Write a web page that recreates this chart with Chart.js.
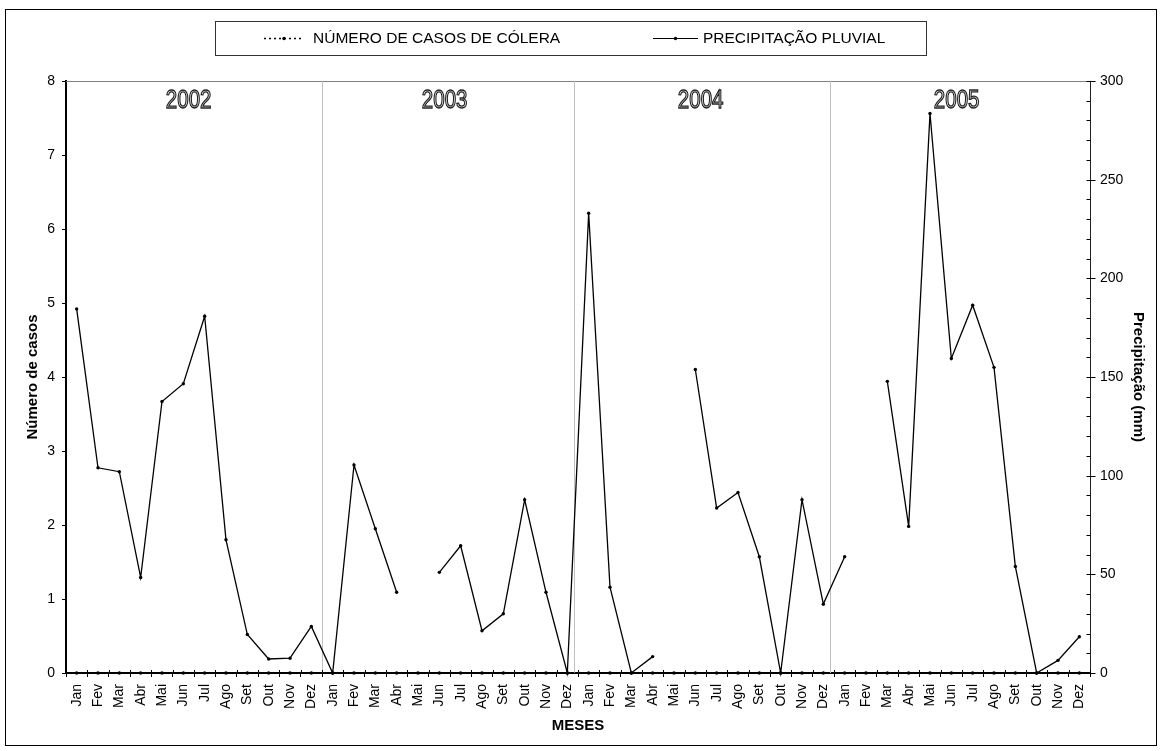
<!DOCTYPE html>
<html>
<head>
<meta charset="utf-8">
<script src="https://cdn.jsdelivr.net/npm/chart.js@4.4.0/dist/chart.umd.min.js"></script>
<style>
html,body{margin:0;padding:0;background:#fff;}
#wrap{width:1162px;height:751px;position:relative;}
canvas{display:block;}
</style>
</head>
<body>
<div id="wrap"><canvas id="c" width="1162" height="751"></canvas></div>
<script>
// ---- data ----
const months = ['Jan','Fev','Mar','Abr','Mai','Jun','Jul','Ago','Set','Out','Nov','Dez'];
const years = ['2002','2003','2004','2005'];
const categories = [].concat(...years.map(() => months));

const casos2002 = [0,0,0,0,0,0,0,0,0,0,0,0];
const casos2003 = [0,0,0,0,0,0,0,0,0,0,0,0];
const casos2004 = [0,0,0,0,0,0,0,0,0,0,0,0];
const casos2005 = [0,0,0,0,0,0,0,0,0,0,0,0];

const precip2002 = [184.5,104,102,48.4,137.6,146.6,180.8,67.5,19.5,7.1,7.5,23.6];
const precip2003 = [0,105.4,73.1,40.9,null,51,64.5,21.4,30,87.8,40.9,0];
const precip2004 = [233,43.5,0,8.3,null,153.8,83.6,91.5,58.9,0,87.8,34.9];
const precip2005 = [58.9,null,147.8,74.3,283.5,159.4,186.4,154.9,54,0,6.4,18.4];

const casosColera = [...casos2002, ...casos2003, ...casos2004, ...casos2005];
const precipitacao = [...precip2002, ...precip2003, ...precip2004, ...precip2005];

const leftAxisMax = 8;
const rightAxisMax = 300;
const rightMajorStep = 50;
const rightMinorStep = 10;

// category positions (in category units) for year separators and year captions
const yearSeparators = [11.5, 23.3, 35.3];
const yearCaptionPos = [5.25, 17.25, 29.25, 41.25];

const legendLabels = ['NÚMERO DE CASOS DE CÓLERA', 'PRECIPITAÇÃO PLUVIAL'];

const fontFam = '"Liberation Sans", Arial, sans-serif';

// ---- decorations plugin ----
const deco = {
  id: 'deco',
  beforeDraw(chart) {
    const ctx = chart.ctx;
    ctx.save();
    ctx.fillStyle = '#fff';
    ctx.fillRect(0, 0, chart.width, chart.height);
    ctx.strokeStyle = '#000';
    ctx.lineWidth = 1;
    ctx.strokeRect(5.5, 9.5, 1151, 736);
    ctx.restore();
  },
  beforeDatasetsDraw(chart) {
    const ctx = chart.ctx, a = chart.chartArea, xs = chart.scales.x, ys = chart.scales.y1;
    ctx.save();
    // top border of plot area
    ctx.strokeStyle = '#808080';
    ctx.lineWidth = 1;
    ctx.beginPath();
    ctx.moveTo(a.left, a.top + 0.5);
    ctx.lineTo(a.right, a.top + 0.5);
    ctx.stroke();
    // year separators
    ctx.strokeStyle = '#c0c0c0';
    yearSeparators.forEach(v => {
      const x = Math.round(xs.getPixelForValue(v)) + 0.5;
      ctx.beginPath();
      ctx.moveTo(x, a.top);
      ctx.lineTo(x, a.bottom);
      ctx.stroke();
    });
    // x tick marks crossing above the axis
    ctx.strokeStyle = '#000';
    ctx.lineWidth = 1;
    for (let i = 0; i <= categories.length; i++) {
      const x = Math.round(xs.getPixelForValue(i - 0.5)) + 0.5;
      ctx.beginPath();
      ctx.moveTo(x, a.bottom - 3);
      ctx.lineTo(x, a.bottom);
      ctx.stroke();
    }
    // right axis ticks: minor inside, major crossing
    const rx = Math.round(a.right) + 0.5;
    for (let v = 0; v <= rightAxisMax; v += rightMinorStep) {
      const y = Math.round(ys.getPixelForValue(v)) + 0.5;
      const major = v % rightMajorStep === 0;
      ctx.beginPath();
      ctx.moveTo(rx - 4, y);
      ctx.lineTo(major ? rx + 5 : rx, y);
      ctx.stroke();
    }
    // year captions (outlined text)
    ctx.font = '25px ' + fontFam;
    ctx.textAlign = 'center';
    ctx.textBaseline = 'middle';
    years.forEach((y, i) => {
      const x = xs.getPixelForValue(yearCaptionPos[i]);
      ctx.save();
      ctx.translate(x, a.top + 20);
      ctx.scale(0.82, 1);
      ctx.fillStyle = '#eeeeee';
      ctx.fillText(y, 0, 0);
      ctx.strokeStyle = '#222';
      ctx.lineWidth = 1.3;
      ctx.strokeText(y, 0, 0);
      ctx.restore();
    });
    ctx.restore();
  },
  afterDraw(chart) {
    const ctx = chart.ctx;
    ctx.save();
    // legend box
    ctx.strokeStyle = '#333';
    ctx.lineWidth = 1;
    ctx.strokeRect(215.5, 21.5, 711, 34);
    const ly = 38.5;
    // entry 1: dotted
    ctx.strokeStyle = '#000';
    ctx.lineWidth = 1.6;
    ctx.setLineDash([2, 3]);
    ctx.beginPath(); ctx.moveTo(264, ly); ctx.lineTo(304, ly); ctx.stroke();
    ctx.setLineDash([]);
    ctx.fillStyle = '#000';
    ctx.beginPath(); ctx.arc(284, ly, 1.7, 0, Math.PI * 2); ctx.fill();
    // entry 2: solid
    ctx.lineWidth = 1.2;
    ctx.beginPath(); ctx.moveTo(653, ly); ctx.lineTo(698, ly); ctx.stroke();
    ctx.beginPath(); ctx.arc(675.5, ly, 1.7, 0, Math.PI * 2); ctx.fill();
    ctx.font = '15.5px ' + fontFam;
    ctx.textAlign = 'left';
    ctx.textBaseline = 'middle';
    ctx.fillText(legendLabels[0], 313, ly);
    ctx.fillText(legendLabels[1], 703, ly);
    ctx.restore();
  }
};

new Chart(document.getElementById('c'), {
  type: 'line',
  data: {
    labels: categories,
    datasets: [
      {
        label: legendLabels[1],
        data: precipitacao,
        yAxisID: 'y1',
        borderColor: '#000',
        backgroundColor: '#000',
        borderWidth: 1.3,
        pointRadius: 1.7,
        pointBorderWidth: 0,
        pointBackgroundColor: '#000',
        tension: 0,
        spanGaps: false,
        clip: false,
        order: 2
      },
      {
        label: legendLabels[0],
        data: casosColera,
        yAxisID: 'y',
        borderColor: '#000',
        backgroundColor: '#000',
        borderWidth: 2,
        borderDash: [3, 3],
        pointRadius: 1.8,
        pointBorderWidth: 0,
        pointBackgroundColor: '#000',
        tension: 0,
        clip: false,
        order: 1
      }
    ]
  },
  options: {
    responsive: false,
    devicePixelRatio: 1,
    animation: false,
    layout: { padding: { top: 81, left: 0, right: 0, bottom: 0 } },
    plugins: { legend: { display: false }, tooltip: { enabled: false } },
    scales: {
      x: {
        type: 'category',
        offset: true,
        grid: { offset: true, drawOnChartArea: false, drawTicks: true, tickLength: 4, color: '#000' },
        border: { display: true, color: '#000', width: 2 },
        ticks: { autoSkip: false, maxRotation: 90, minRotation: 90, padding: 7, color: '#000', font: { family: fontFam, size: 14 } },
        title: { display: true, text: 'MESES', color: '#000', font: { family: fontFam, size: 15, weight: 'bold' }, padding: { top: 0, bottom: 16 } },
        afterFit(s) { s.height = 78; }
      },
      y: {
        position: 'left',
        min: 0, max: leftAxisMax,
        grid: { drawOnChartArea: false, drawTicks: true, tickLength: 4, color: '#000' },
        border: { display: true, color: '#000', width: 2 },
        ticks: { stepSize: 1, padding: 7, color: '#000', font: { family: fontFam, size: 14 } },
        title: { display: true, text: 'Número de casos', color: '#000', font: { family: fontFam, size: 15, weight: 'bold' }, padding: { top: 24, bottom: 0 } },
        afterFit(s) { s.width = 66; }
      },
      y1: {
        position: 'right',
        min: 0, max: rightAxisMax,
        grid: { drawOnChartArea: false, drawTicks: false, color: '#000' },
        border: { display: true, color: '#222', width: 1 },
        ticks: {
          stepSize: rightMinorStep, padding: 10, color: '#000', autoSkip: false,
          font: { family: fontFam, size: 14 },
          callback: v => (v % rightMajorStep === 0 ? v : '')
        },
        title: { display: true, text: 'Precipitação (mm)', color: '#000', font: { family: fontFam, size: 15, weight: 'bold' }, padding: { top: 15, bottom: 0 } },
        afterFit(s) { s.width = 72; }
      }
    }
  },
  plugins: [deco]
});
</script>
</body>
</html>
